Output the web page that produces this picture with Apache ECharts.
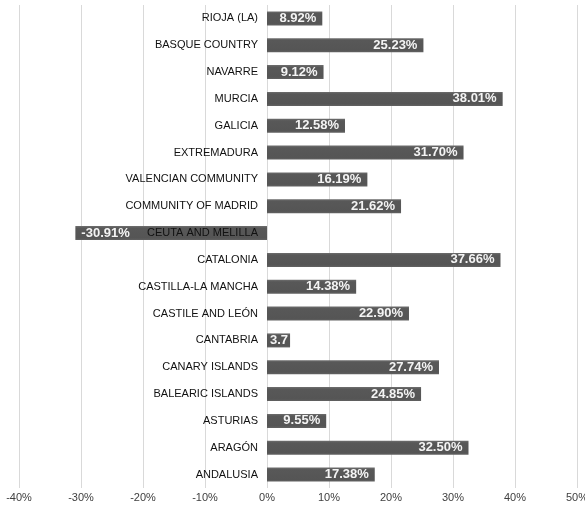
<!DOCTYPE html>
<html>
<head>
<meta charset="utf-8">
<script src="https://cdn.jsdelivr.net/npm/echarts@6/dist/echarts.min.js"></script>
<style>
  html, body { margin: 0; padding: 0; background: #fff; }
  #main { width: 585px; height: 507px; }
</style>
</head>
<body>
<div id="main"></div>
<script>
// regions, top to bottom
var regions = ['RIOJA (LA)', 'BASQUE COUNTRY', 'NAVARRE', 'MURCIA', 'GALICIA', 'EXTREMADURA',
  'VALENCIAN COMMUNITY', 'COMMUNITY OF MADRID', 'CEUTA AND MELILLA', 'CATALONIA',
  'CASTILLA-LA MANCHA', 'CASTILE AND LEÓN', 'CANTABRIA', 'CANARY ISLANDS',
  'BALEARIC ISLANDS', 'ASTURIAS', 'ARAGÓN', 'ANDALUSIA']
var change = [8.92, 25.23, 9.12, 38.01, 12.58, 31.70, 16.19, 21.62, -30.91, 37.66,
  14.38, 22.90, 3.72, 27.74, 24.85, 9.55, 32.50, 17.38]

var xMin = -40, xMax = 50, xStep = 10

var gridLeft = 19, gridRight = 8
var chartW = 585

var myChart = echarts.init(document.getElementById('main'))

// shift the category axis onto the 0% line
var plotW = chartW - gridLeft - gridRight
var zeroShift = plotW * (0 - xMin) / (xMax - xMin)

var barData = change.map(function (v, i) {
    var item = { value: v }
    if (v < 0) {
        item.label = { position: 'insideLeft' }
    } else if (v < 5) {
        // short bar: label gets clipped like in the source
        item.label = { position: 'insideLeft', distance: 3, width: v * plotW / (xMax - xMin) - 3, overflow: 'truncate', ellipsis: '' }
    }
    return item
})

var option = {
    backgroundColor: '#fff',
    animation: false,
    grid: {
        left: gridLeft,
        right: gridRight,
        top: 5,
        bottom: 19,
        containLabel: false,
        outerBoundsMode: 'none'
    },
    xAxis: {
        type: 'value',
        min: xMin,
        max: xMax,
        interval: xStep,
        axisLine: { show: false },
        axisTick: { show: false },
        axisLabel: {
            formatter: '{value}%',
            color: '#404040',
            fontFamily: 'Liberation Sans',
            fontSize: 11,
            margin: 4
        },
        splitLine: { lineStyle: { color: '#d9d9d9', width: 1 } }
    },
    yAxis: {
        type: 'category',
        data: regions,
        inverse: true,
        offset: -zeroShift,
        axisLine: { show: false },
        axisTick: { show: false },
        axisLabel: {
            color: '#111',
            fontFamily: 'Liberation Sans',
            fontSize: 11,
            margin: 9
        },
        z: 5
    },
    series: [
        {
            name: 'change',
            type: 'bar',
            barWidth: 14,
            data: barData,
            itemStyle: {
                color: new echarts.graphic.LinearGradient(0, 0, 0, 1, [
                    { offset: 0, color: '#6e6e6e' },
                    { offset: 0.15, color: '#585858' },
                    { offset: 0.85, color: '#555555' },
                    { offset: 1, color: '#626262' }
                ])
            },
            label: {
                show: true,
                position: 'insideRight',
                distance: 6,
                color: '#f4f4f4',
                fontFamily: 'Liberation Sans',
                fontWeight: 'bold',
                fontSize: 13,
                formatter: function (p) {
                    return p.value.toFixed(2) + '%'
                }
            }
        }
    ]
}

myChart.setOption(option)
</script>
</body>
</html>
